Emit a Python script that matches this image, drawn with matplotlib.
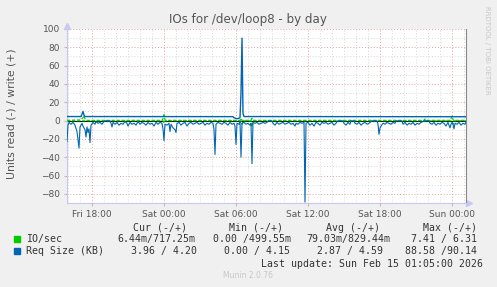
import matplotlib.pyplot as plt
import numpy as np

# 5-minute samples counted from Fri 15:55 (hours below are relative to Sat 00:00)
start_h = -8 - 5 / 60
n_samples = 400

# Req Size (KB), read (negative) - sample index, value
req_read_idx = [0, 1, 2, 4, 6, 8, 10, 12, 13, 15, 16, 18, 19, 20, 21, 22, 23, 24, 26, 28, 29, 31, 33, 35, 37, 38,
                43, 44, 45, 46, 48, 50, 52, 54, 56, 58, 60, 61, 63, 65, 67, 69, 71, 73, 75, 77, 79, 81, 83, 85,
                87, 89, 91, 93, 95, 96, 97, 98, 100, 102, 103, 104, 106, 108, 109, 110, 112, 114, 116, 118, 120,
                122, 124, 126, 128, 130, 132, 134, 136, 138, 140, 142, 144, 146, 147, 148, 149, 151, 153, 155,
                157, 159, 161, 163, 165, 167, 168, 169, 170, 172, 173, 174, 175, 177, 179, 181, 183, 184, 185,
                186, 188, 190, 192, 194, 196, 198, 200, 201, 205, 206, 208, 210, 212, 214, 216, 218, 220, 222,
                224, 226, 228, 229, 231, 233, 235, 237, 238, 239, 241, 243, 245, 247, 249, 251, 253, 255, 257,
                259, 261, 263, 265, 267, 269, 270, 271, 276, 277, 279, 281, 283, 284, 287, 288, 290, 292, 294,
                296, 298, 300, 302, 304, 305, 310, 311, 312, 313, 314, 316, 318, 320, 322, 324, 326, 328, 329,
                335, 336, 338, 340, 342, 344, 346, 348, 350, 352, 354, 356, 357, 362, 363, 365, 367, 369, 371,
                373, 375, 377, 379, 381, 383, 384, 385, 386, 387, 388, 390, 392, 394, 396, 398, 399]
req_read_val = [-23, -5, -2, -4, -2, -5, -12, -30, -7, -3, -6, -10, -18, -7, -13, -9, -24, -5, -2, -4, -1, -3, -2,
                -4, -1, -0.3, -0.3, -3, -7, -2, -4, -2, -5, -3, -4, -1, -3, -6, -2, -4, -3, -5, -1, -4, -2, -3,
                -5, -2, -4, -3, -6, -2, -4, -2, -3, -9, -22, -4, -5, -3, -12, -4, -8, -10, -13, -3, -2, -5, -3,
                -2, -6, -3, -2, -4, -3, -2, -4, -3, -2, -5, -3, -4, -2, -3, -10, -37, -4, -2, -3, -4, -2, -3,
                -5, -2, -4, -3, -6, -26, -3, -4, -1, -40, -3, -2, -4, -3, -5, -3, -47, -2, -3, -2, -4, -3, -2,
                -3, -2, -0.3, -0.3, -3, -5, -2, -4, -3, -2, -4, -3, -2, -4, -3, -6, -3, -4, -2, -3, -2, -89,
                -3, -2, -5, -3, -6, -2, -3, -5, -2, -3, -2, -4, -3, -2, -5, -3, -1, -0.3, -0.3, -3, -5, -2,
                -4, -0.3, -0.3, -3, -4, -2, -5, -3, -2, -4, -3, -1, -0.3, -0.3, -4, -15, -8, -6, -3, -4, -2,
                -3, -4, -2, -3, -0.3, -0.3, -4, -2, -5, -3, -4, -2, -5, -3, -4, -2, -1, -0.3, -0.3, -3, -4,
                -2, -5, -3, -4, -2, -3, -6, -2, -8, -4, -2, -4, -9, -3, -4, -2, -5, -3, -4, -2]

# Req Size (KB), write (positive)
req_write_idx = [0, 14, 15, 16, 17, 18, 166, 167, 170, 173, 174, 175, 176, 177, 399]
req_write_val = [4.4, 4.4, 7, 10, 6, 4.4, 4.3, 3, 2, 3, 30, 90, 8, 4.4, 4.2]

# IO/sec
io_write_idx = [0, 14, 16, 17, 18, 19, 95, 96, 97, 98, 99, 173, 174, 175, 184, 185, 186, 357, 358, 359,
                383, 384, 385, 386, 387, 399]
io_write_val = [0.3, 0.8, 3, 5.5, 2, 0.3, 0.3, 2, 6.5, 1, 0.3, 0.3, 2.5, 0.3, 0.3, 2.5, 0.3, 0.3, 1.8, 0.3,
                0.3, 2, 5, 1, 0.3, 0.3]
io_read_idx = [0, 96, 97, 98, 174, 175, 176, 184, 185, 186, 385, 386, 387, 399]
io_read_val = [-0.3, -0.3, -3, -0.3, -0.3, -4, -0.3, -0.3, -7, -0.3, -0.3, -4, -0.3, -0.3]

tick_hours = [-6, 0, 6, 12, 18, 24]
tick_labels = ['Fri 18:00', 'Sat 00:00', 'Sat 06:00', 'Sat 12:00', 'Sat 18:00', 'Sun 00:00']

legend_names = ['IO/sec', 'Req Size (KB)']
legend_colors = ['#00CC00', '#0066B3']
cur = ['6.44m/717.25m', '3.96 / 4.20']
mins = ['0.00 /499.55m', '0.00 / 4.15']
avgs = ['79.03m/829.44m', '2.87 / 4.59']
maxs = ['7.41 / 6.31', '88.58 /90.14']


def hours(idx):
    return start_h + np.array(idx) * 5 / 60


W, H = 497, 287
fig = plt.figure(figsize=(W / 100, H / 100), dpi=100, facecolor='#F0F0F0')
ax = fig.add_axes([67 / W, 1 - 203 / H, 399 / W, 174 / H], facecolor='white')

x_end = start_h + (n_samples - 1) * 5 / 60
ax.set_xlim(start_h, x_end)
ax.set_ylim(-90, 100)

# grid
for h in range(-8, 26):
    major = h % 6 == 0
    ax.axvline(h, color='#E8A0A0' if major else '#D8D8D8', lw=0.7, ls=(0, (1, 2)), zorder=0)
for v in range(-90, 101, 10):
    major = v % 20 == 0
    ax.axhline(v, color='#E8A0A0' if major else '#D8D8D8', lw=0.7, ls=(0, (1, 2)), zorder=0)

ax.axhline(0, color='black', lw=0.8, zorder=2)
ax.plot(hours(io_read_idx), io_read_val, color=legend_colors[0], lw=0.8, ls=(0, (3, 1.5)), zorder=3)
ax.plot(hours(io_write_idx), io_write_val, color=legend_colors[0], lw=0.8, ls=(0, (3, 1.5)), zorder=3)
ax.plot(hours(req_read_idx), req_read_val, color=legend_colors[1], lw=0.8, zorder=4)
ax.plot(hours(req_write_idx), req_write_val, color=legend_colors[1], lw=1.0, zorder=4)

ax.set_xticks(tick_hours)
ax.set_xticklabels(tick_labels)
ax.set_yticks(range(-80, 101, 20))
ax.tick_params(axis='both', length=2, color='#BBBBBB', labelsize=6.5, labelcolor='#555555', pad=3)

ax.spines['top'].set_visible(False)
ax.spines['right'].set_color('#888888')
ax.spines['left'].set_color('#C8C8F0')
ax.spines['bottom'].set_color('#C8C8F0')
for s in ax.spines.values():
    s.set_linewidth(0.8)

# axis arrows
ax.plot([start_h], [103], marker='^', ms=4, color='#C8C8F0', clip_on=False)
ax.plot([x_end + 0.25], [-90], marker='>', ms=4, color='#C8C8F0', clip_on=False)


def px(x, y):
    return x / W, 1 - y / H


fig.text(*px(12, 114), 'Units read (-) / write (+)', rotation=90, ha='center', va='center',
         fontsize=7.8, color='#555555')
fig.text(*px(248, 19), 'IOs for /dev/loop8 - by day', ha='center', va='center',
         fontsize=8.6, color='#555555')
fig.text(*px(487, 6), 'RRDTOOL / TOBI OETIKER', rotation=270, ha='center', va='top',
         fontsize=5, color='#C8C8C8')

mono = dict(family='DejaVu Sans Mono', fontsize=7.1, color='#333333', va='center')
fig.text(*px(187, 228), 'Cur (-/+)', ha='right', **mono)
fig.text(*px(283, 228), 'Min (-/+)', ha='right', **mono)
fig.text(*px(380, 228), 'Avg (-/+)', ha='right', **mono)
fig.text(*px(477, 228), 'Max (-/+)', ha='right', **mono)

rows_y = [239, 251]
col_right = [(195, 291, 390, 477), (197, 290, 383, 477)]
for i, name in enumerate(legend_names):
    y = rows_y[i]
    fig.patches.append(plt.Rectangle(px(14, y + 3), 6 / W, 6 / H, transform=fig.transFigure,
                                     color=legend_colors[i]))
    fig.text(*px(26, y), name, ha='left', **mono)
    for txt, xr in zip([cur[i], mins[i], avgs[i], maxs[i]], col_right[i]):
        fig.text(*px(xr, y), txt, ha='right', **mono)

fig.text(*px(483, 264), 'Last update: Sun Feb 15 01:05:00 2026', ha='right', **mono)
fig.text(*px(248, 276), 'Munin 2.0.76', ha='center', va='center', fontsize=5.5, color='#C8C8C8')

fig.savefig('out.png', dpi=100, facecolor=fig.get_facecolor())
